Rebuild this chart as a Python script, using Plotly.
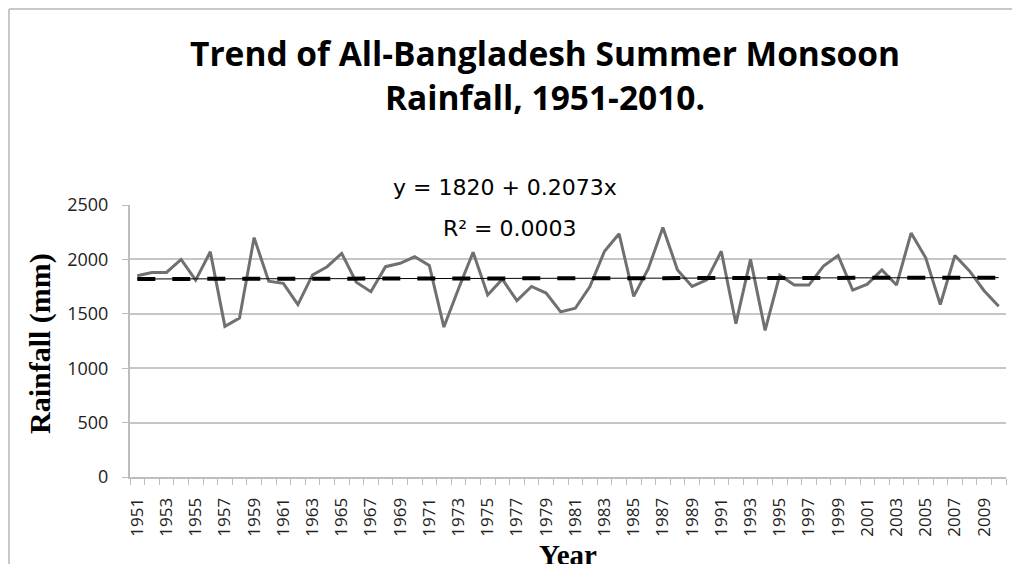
import plotly.graph_objects as go

years = list(range(1951, 2011))
rainfall = [
    1850, 1880, 1880, 2000, 1810, 2070, 1385, 1460, 2200, 1800,
    1780, 1585, 1857, 1933, 2055, 1790, 1703, 1933, 1964, 2024,
    1945, 1378, 1730, 2066, 1673, 1818, 1621, 1751, 1691, 1518,
    1551, 1751, 2075, 2236, 1660, 1915, 2294, 1903, 1751, 1812,
    2075, 1409, 2000, 1348, 1854, 1764, 1764, 1939, 2036, 1718,
    1773, 1903, 1764, 2242, 2015, 1585, 2036, 1894, 1712, 1569,
]
trend_intercept = 1820
trend_slope = 0.2073
trend = [trend_intercept + trend_slope * (i + 1) for i in range(len(years))]
label_years = list(range(1951, 2010, 2))
y_ticks = [0, 500, 1000, 1500, 2000, 2500]

# page offset (browser body margin) and plot area in reference pixels
OFF = 8
L, R, T, B = 130, 1006, 205, 477
W, H = 1020 - OFF, 564 - OFF


def px(x):
    return (x - L) / (R - L)


def py(y):
    return (B - y) / (B - T)


fig = go.Figure()
fig.add_trace(go.Scatter(x=years, y=rainfall, mode="lines",
                         line=dict(color="#707070", width=3), showlegend=False))
fig.add_trace(go.Scatter(x=years, y=trend, mode="lines",
                         line=dict(color="black", width=1), showlegend=False))
fig.add_trace(go.Scatter(x=years, y=trend, mode="lines",
                         line=dict(color="black", width=4, dash="18px,17px"),
                         showlegend=False))

fig.update_layout(
    width=W, height=H,
    margin=dict(l=L - OFF, r=W - (R - OFF), t=T - OFF, b=H - (B - OFF)),
    paper_bgcolor="white", plot_bgcolor="white",
    xaxis=dict(
        range=[1950.5, 2010.5],
        tickmode="array", tickvals=label_years,
        ticktext=[str(y) for y in label_years],
        tickangle=-90, ticks="outside", ticklen=12, tickcolor="rgba(0,0,0,0)",
        tickfont=dict(family="Open Sans", size=17, color="#222"),
        showline=True, linecolor="#bdbdbd", linewidth=2,
        showgrid=False, zeroline=False,
        minor=dict(tickmode="linear", tick0=1950.5, dtick=1, ticks="outside",
                   ticklen=6, tickcolor="#bdbdbd", showgrid=False),
    ),
    yaxis=dict(
        range=[0, 2500], tickvals=y_ticks,
        ticks="outside", ticklen=6, tickcolor="#bdbdbd", tickwidth=1,
        tickfont=dict(family="Open Sans", size=18, color="#222"),
        ticklabelstandoff=10,
        showline=True, linecolor="#bdbdbd", linewidth=2,
        showgrid=True, gridcolor="#c6c6c6", gridwidth=2, zeroline=False,
    ),
    annotations=[
        dict(text="<b>Trend of All-Bangladesh Summer Monsoon<br>Rainfall, 1951-2010.</b>",
             x=px(545), y=py(75), xref="paper", yref="paper",
             xanchor="center", yanchor="middle", showarrow=False,
             font=dict(family="Open Sans", size=33.5, color="black")),
        dict(text="y = 1820 + 0.2073x", x=px(505), y=py(187), xref="paper", yref="paper",
             xanchor="center", yanchor="middle", showarrow=False,
             font=dict(family="DejaVu Sans", size=22, color="black")),
        dict(text="R² = 0.0003", x=px(510), y=py(228), xref="paper", yref="paper",
             xanchor="center", yanchor="middle", showarrow=False,
             font=dict(family="DejaVu Sans", size=22, color="black")),
        dict(text="<b>Rainfall (mm)</b>", x=px(40), y=py(344), xref="paper", yref="paper",
             xanchor="center", yanchor="middle", showarrow=False, textangle=-90,
             font=dict(family="Liberation Serif", size=30, color="black")),
        dict(text="<b>Year</b>", x=px(568), y=py(555), xref="paper", yref="paper",
             xanchor="center", yanchor="middle", showarrow=False,
             font=dict(family="Liberation Serif", size=29, color="black")),
    ],
    shapes=[
        dict(type="line", xref="paper", yref="paper", x0=px(9), x1=px(1040),
             y0=py(9), y1=py(9), line=dict(color="#c8c8c8", width=2)),
        dict(type="line", xref="paper", yref="paper", x0=px(9), x1=px(9),
             y0=py(9), y1=py(600), line=dict(color="#c8c8c8", width=2)),
    ],
)

fig.write_html("out.html")
